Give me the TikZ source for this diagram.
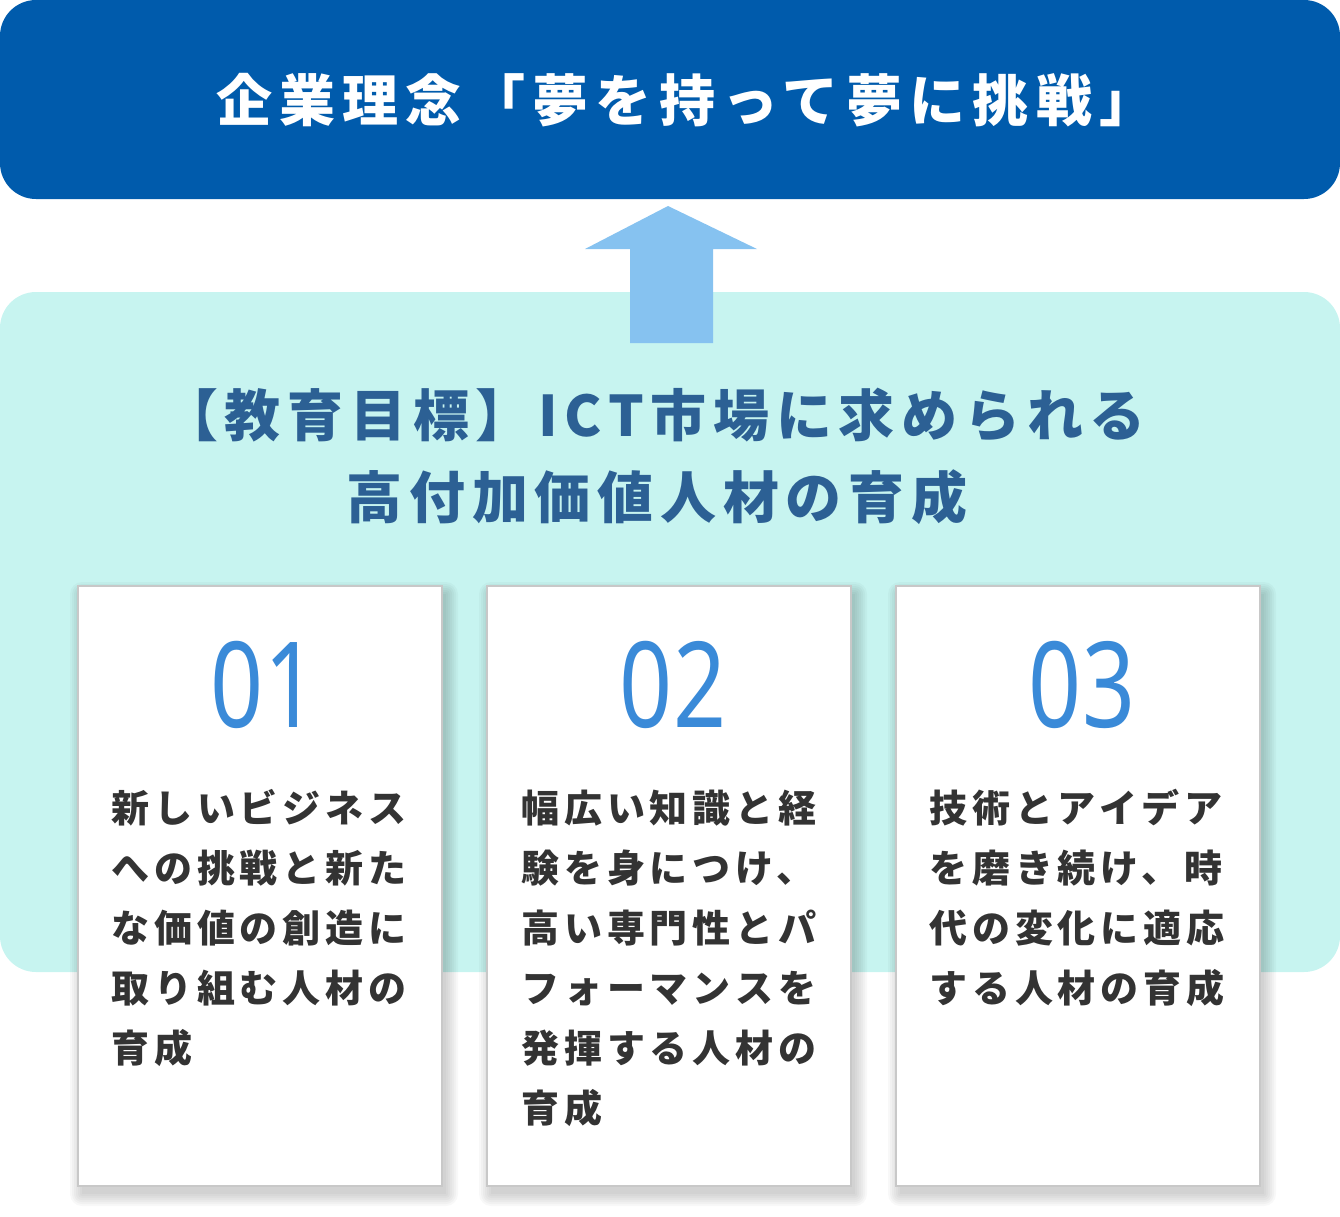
\documentclass[tikz,border=0pt]{standalone}
\usepackage{fontspec}
\newfontfamily\jpT{Noto Sans CJK JP}[LetterSpace=12]
\newfontfamily\jpTT{Noto Sans CJK JP}[LetterSpace=13]
\newfontfamily\jpC{Noto Sans CJK JP}[LetterSpace=13]
\newfontfamily\numf{Noto Sans}
\definecolor{barblue}{RGB}{0,91,172}
\definecolor{lightcyan}{RGB}{199,244,240}
\definecolor{arrowblue}{RGB}{134,194,240}
\definecolor{headblue}{RGB}{44,96,148}
\definecolor{numblue}{RGB}{58,138,216}
\definecolor{txtgray}{RGB}{51,51,51}
\definecolor{cardline}{RGB}{200,200,200}
\begin{document}
\begin{tikzpicture}[x=1pt,y=-1pt,
  titletext/.style={anchor=base west, inner sep=0pt, text=white, font=\jpTT\bfseries\fontsize{56}{60}\selectfont},
  headtext/.style={anchor=base, inner sep=0pt, text=headblue, font=\jpT\bfseries\fontsize{56}{60}\selectfont},
  cardtext/.style={anchor=base west, inner sep=0pt, text=txtgray, font=\jpC\bfseries\fontsize{38}{40}\selectfont},
  numtext/.style={anchor=base, inner sep=0pt, text=numblue, font=\numf\fontsize{119}{120}\selectfont},
  cardbox/.style={fill=white, draw=cardline, line width=1.2pt},
  shadowbox/.style={fill=black, opacity=0.028}]
\useasboundingbox (0,0) rectangle (1340,1216);
% top bar
\fill[barblue, rounded corners=36pt] (0,0) rectangle (1340,199);
\node[titletext] (title) at (216,121) {企業理念「夢を持って夢に挑戦」};
% light box
\fill[lightcyan, rounded corners=36pt] (0,292) rectangle (1340,972);
% arrow
\fill[arrowblue] (668,206) -- (757,249) -- (713,249) -- (713,343) -- (630,343) -- (630,249) -- (585,249) -- cycle;
% heading
\node[headtext] (head1) at (654,436) {【教育目標】ICT市場に求められる};
\node[headtext] (head2) at (657,518) {高付加価値人材の育成};
% cards
\foreach \x/\n in {78/01,487/02,896/03}{
  \foreach \e in {0,2,...,12}{
    \fill[shadowbox, rounded corners=\e pt] ({\x+4-\e},{586+8-\e}) rectangle ({\x+364+4+\e},{1186+8+\e});
  }
  \path[cardbox] (\x,586) rectangle ({\x+364},1186);
  \node[numtext] (num\n) at ({\x+186},727) {\scalebox{0.78}[1]{\n}};
}
\foreach \t [count=\i] in {新しいビジネス,への挑戦と新た,な価値の創造に,取り組む人材の,育成}{
  \node[cardtext] (ca\i) at (111,{822+60*(\i-1)}) {\t};
}
\foreach \t [count=\i] in {幅広い知識と経,験を身につけ、,高い専門性とパ,フォーマンスを,発揮する人材の,育成}{
  \node[cardtext] (cb\i) at (521,{822+60*(\i-1)}) {\t};
}
\foreach \t [count=\i] in {技術とアイデア,を磨き続け、時,代の変化に適応,する人材の育成}{
  \node[cardtext] (cc\i) at (929,{822+60*(\i-1)}) {\t};
}
\end{tikzpicture}
\end{document}
